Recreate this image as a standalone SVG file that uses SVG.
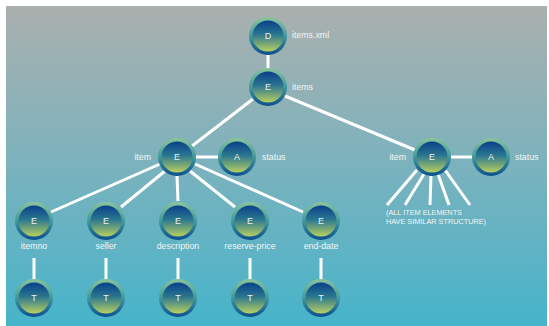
<svg xmlns="http://www.w3.org/2000/svg" width="549" height="326" viewBox="0 0 549 326">
<defs>
<linearGradient id="bg" x1="0" y1="0" x2="0" y2="1">
<stop offset="0" stop-color="#aab0ae"/>
<stop offset="0.45" stop-color="#80b2bc"/>
<stop offset="1" stop-color="#46b4ca"/>
</linearGradient>
<linearGradient id="ring" x1="0" y1="0" x2="0" y2="1">
<stop offset="0" stop-color="#8cc49a"/>
<stop offset="0.5" stop-color="#3f9a9e"/>
<stop offset="1" stop-color="#0c4e8e"/>
</linearGradient>
<linearGradient id="core" x1="0" y1="0" x2="0" y2="1">
<stop offset="0" stop-color="#08408a"/>
<stop offset="0.45" stop-color="#2a7690"/>
<stop offset="1" stop-color="#b8d060"/>
</linearGradient>
<symbol id="n" overflow="visible">
<circle r="19" fill="url(#ring)"/>
<circle r="15.5" fill="url(#core)"/>
</symbol>
</defs>
<style>
.c line{stroke:#ffffff;stroke-width:3;stroke-linecap:butt}
.l{font-family:"Liberation Sans",Arial,sans-serif;font-size:8.8px;fill:#f2f6f6}
.s{font-family:"Liberation Sans",Arial,sans-serif;font-size:7.3px;fill:#f2f6f6}
.g{font-family:"Liberation Sans",Arial,sans-serif;font-size:9px;fill:#e8f0f0;text-anchor:middle}
</style>
<rect x="0" y="0" width="549" height="326" fill="#ffffff"/>
<rect x="6" y="6" width="541" height="320" fill="url(#bg)"/>
<g class="c" id="connectors">
<line x1="268" y1="55" x2="268" y2="68"/>
<line x1="253" y1="99" x2="192" y2="146"/>
<line x1="285" y1="96" x2="415" y2="150"/>
<line x1="196" y1="157" x2="218" y2="157"/>
<line x1="451" y1="157" x2="472" y2="157"/>
<line x1="160" y1="164" x2="51" y2="212"/>
<line x1="165" y1="171" x2="121" y2="207"/>
<line x1="177" y1="176" x2="178" y2="201"/>
<line x1="190" y1="171" x2="235" y2="207"/>
<line x1="195" y1="164" x2="303" y2="212"/>
<line x1="417" y1="170" x2="387" y2="205"/>
<line x1="424" y1="174" x2="405" y2="205"/>
<line x1="431" y1="176" x2="430" y2="205"/>
<line x1="438" y1="174" x2="449" y2="205"/>
<line x1="445" y1="170" x2="470" y2="205"/>
<line x1="34" y1="258" x2="34" y2="279"/>
<line x1="106" y1="258" x2="106" y2="279"/>
<line x1="178" y1="258" x2="178" y2="279"/>
<line x1="250" y1="258" x2="250" y2="279"/>
<line x1="321" y1="258" x2="321" y2="279"/>
</g>
<g id="doc"><use href="#n" x="268" y="36"/><text class="g" x="268" y="39">D</text><text class="l" x="292" y="38">items.xml</text></g>
<g id="items"><use href="#n" x="268" y="87"/><text class="g" x="268" y="90">E</text><text class="l" x="292" y="90">items</text></g>
<g id="item1"><use href="#n" x="177" y="157"/><text class="g" x="177" y="160">E</text><text class="l" x="151" y="160" text-anchor="end">item</text></g>
<g id="status1"><use href="#n" x="237" y="157"/><text class="g" x="237" y="160">A</text><text class="l" x="262" y="160">status</text></g>
<g id="item2"><use href="#n" x="432" y="157"/><text class="g" x="432" y="160">E</text><text class="l" x="406" y="160" text-anchor="end">item</text>
<text class="s" x="386" y="215">(ALL ITEM ELEMENTS</text><text class="s" x="386" y="224">HAVE SIMILAR STRUCTURE)</text></g>
<g id="status2"><use href="#n" x="491" y="157"/><text class="g" x="491" y="160">A</text><text class="l" x="515" y="160">status</text></g>
<g id="itemno"><use href="#n" x="34" y="221"/><text class="g" x="34" y="224">E</text><text class="l" x="34" y="249" text-anchor="middle">itemno</text></g>
<g id="seller"><use href="#n" x="106" y="221"/><text class="g" x="106" y="224">E</text><text class="l" x="106" y="249" text-anchor="middle">seller</text></g>
<g id="description"><use href="#n" x="178" y="221"/><text class="g" x="178" y="224">E</text><text class="l" x="178" y="249" text-anchor="middle">description</text></g>
<g id="reserve-price"><use href="#n" x="250" y="221"/><text class="g" x="250" y="224">E</text><text class="l" x="250" y="249" text-anchor="middle">reserve-price</text></g>
<g id="end-date"><use href="#n" x="321" y="221"/><text class="g" x="321" y="224">E</text><text class="l" x="321" y="249" text-anchor="middle">end-date</text></g>
<g id="t1"><use href="#n" x="34" y="298"/><text class="g" x="34" y="301">T</text></g>
<g id="t2"><use href="#n" x="106" y="298"/><text class="g" x="106" y="301">T</text></g>
<g id="t3"><use href="#n" x="178" y="298"/><text class="g" x="178" y="301">T</text></g>
<g id="t4"><use href="#n" x="250" y="298"/><text class="g" x="250" y="301">T</text></g>
<g id="t5"><use href="#n" x="321" y="298"/><text class="g" x="321" y="301">T</text></g>
</svg>
